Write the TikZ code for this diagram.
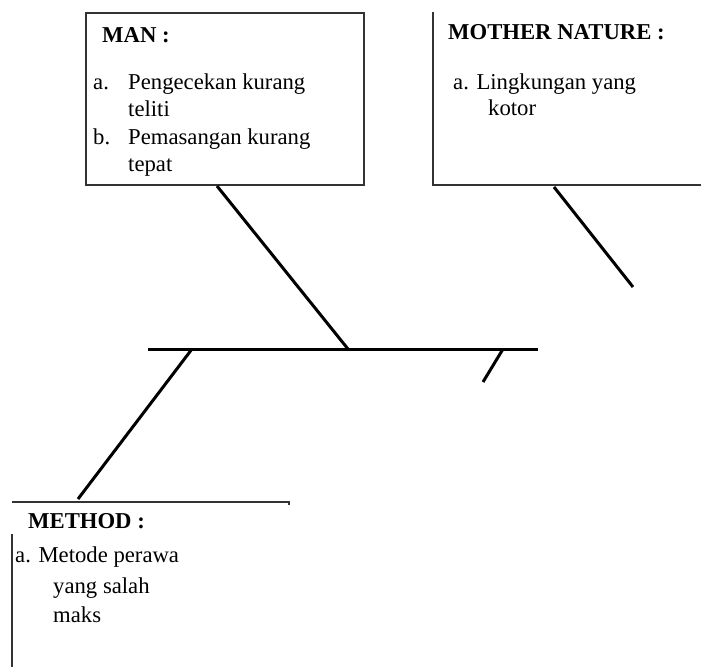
\documentclass[tikz,border=0pt]{standalone}
\usepackage{fontspec}
\setmainfont{Liberation Serif}
\begin{document}
\begin{tikzpicture}[x=1pt,y=-1pt,
  txt/.style={anchor=base west,inner sep=0pt,font=\fontsize{22.7}{27}\selectfont},
  hd/.style={txt,font=\fontsize{22.7}{27}\selectfont\bfseries},
  frame/.style={line width=1.1pt,draw=black!80},
  bone/.style={line width=3pt,draw=black}]
\useasboundingbox (0,0) rectangle (701,667);
% MAN box
\draw[frame] (86,13) rectangle (364,185);
\node[hd] (manh) at (102,42) {MAN :};
\node[txt] (mana) at (93,89) {a.};
\node[txt] (mana1) at (128,89) {Pengecekan kurang};
\node[txt] (mana2) at (128,116) {teliti};
\node[txt] (manb) at (93,144) {b.};
\node[txt] (manb1) at (128,144) {Pemasangan kurang};
\node[txt] (manb2) at (128,171) {tepat};
% MOTHER NATURE box (left and bottom sides only)
\draw[frame] (433,12) -- (433,185) -- (701,185);
\node[hd] (moth) at (448,39) {MOTHER NATURE :};
\node[txt] (mota) at (453,89) {a. Lingkungan yang};
\node[txt] (motb) at (488,115) {kotor};
% METHOD box (top and left sides)
\draw[frame] (12,502) -- (289,502) -- (289,505);
\draw[frame] (12,534) -- (12,667);
\node[hd] (meth) at (28,528) {METHOD :};
\node[txt] (meta) at (15,562) {a. Metode perawa};
\node[txt] (metb) at (53,593) {yang salah};
\node[txt] (metc) at (53,622) {maks};
% spine and bones
\coordinate (sL) at (148,349);
\coordinate (sR) at (538,349);
\coordinate (manTop) at (217,186);
\coordinate (manJ) at (348,349);
\coordinate (motTop) at (554,187);
\coordinate (motEnd) at (633,287);
\coordinate (metJ) at (192,349);
\coordinate (metEnd) at (78,499);
\coordinate (smJ) at (503,349);
\coordinate (smEnd) at (483,382);
\draw[bone] (sL) -- (sR);
\draw[bone] (manTop) -- (manJ);
\draw[bone] (motTop) -- (motEnd);
\draw[bone] (metJ) -- (metEnd);
\draw[bone] (smJ) -- (smEnd);
\end{tikzpicture}
\end{document}
